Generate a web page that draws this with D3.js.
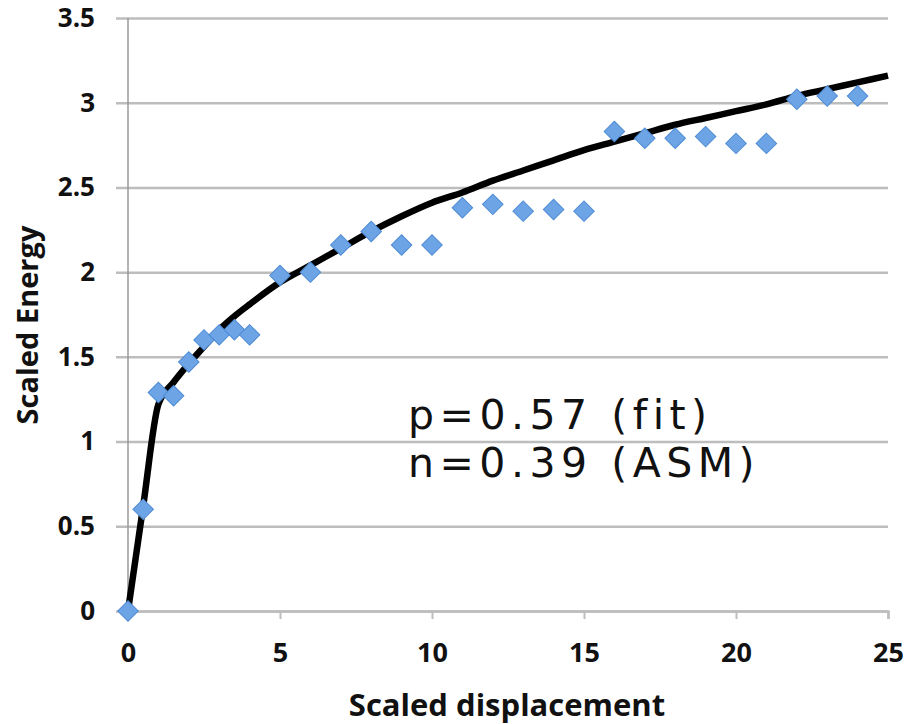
<!DOCTYPE html>
<html>
<head>
<meta charset="utf-8">
<script src="https://cdn.jsdelivr.net/npm/d3@7"></script>
<style>
  body { margin: 0; background: #fff; }
  svg { display: block; }
</style>
</head>
<body>
<div id="chart"></div>
<script>
// measured points (blue diamonds)
var dispX = [0, 0.5, 1, 1.5, 2, 2.5, 3, 3.5, 4, 5, 6, 7, 8, 9, 10, 11, 12, 13, 14, 15, 16, 17, 18, 19, 20, 21, 22, 23, 24];
var energyY = [0, 0.6, 1.29, 1.27, 1.47, 1.6, 1.63, 1.66, 1.63, 1.98, 2.0, 2.16, 2.24, 2.16, 2.16, 2.38, 2.4, 2.36, 2.37, 2.36, 2.83, 2.79, 2.79, 2.8, 2.76, 2.76, 3.02, 3.04, 3.04];

// fitted curve (black line)
var fitX = [0, 0.5, 1, 1.5, 2, 2.5, 3, 3.5, 4, 5, 6, 7, 8, 9, 10, 11, 12, 13, 14, 15, 16, 17, 18, 19, 20, 21, 22, 23, 24, 25];
var fitY = [0, 0.62, 1.22, 1.35, 1.46, 1.56, 1.66, 1.74, 1.81, 1.94, 2.04, 2.14, 2.24, 2.33, 2.41, 2.47, 2.54, 2.6, 2.66, 2.72, 2.77, 2.82, 2.87, 2.91, 2.95, 2.99, 3.04, 3.08, 3.12, 3.16];

var xTicks = [0, 5, 10, 15, 20, 25];
var yTicks = [0, 0.5, 1, 1.5, 2, 2.5, 3, 3.5];
var notes = ["p=0.57 (fit)", "n=0.39 (ASM)"];

var width = 918, height = 724;
var margin = { top: 18, right: 30, bottom: 113, left: 128 };
var innerW = width - margin.left - margin.right;
var innerH = height - margin.top - margin.bottom;

var svg = d3.select("#chart").append("svg")
  .attr("width", width)
  .attr("height", height);

var g = svg.append("g")
  .attr("transform", "translate(" + margin.left + "," + margin.top + ")");

var x = d3.scaleLinear().domain([0, 25]).range([0, innerW]);
var y = d3.scaleLinear().domain([0, 3.5]).range([innerH, 0]);

var tickFont = "'Open Sans', sans-serif";

// horizontal gridlines + y axis
var yAxis = g.append("g")
  .call(d3.axisLeft(y).tickValues(yTicks).tickSize(-innerW).tickPadding(33).tickFormat(d3.format("")));
yAxis.select(".domain").remove();
yAxis.selectAll(".tick line")
  .attr("x1", -12)
  .attr("stroke", "#bdbdbd")
  .attr("stroke-width", 2.5);
yAxis.selectAll(".tick text")
  .attr("font-family", tickFont)
  .attr("font-weight", "bold")
  .attr("font-size", 26)
  .attr("fill", "#111");

// left axis line
g.append("line")
  .attr("x1", 0).attr("x2", 0)
  .attr("y1", 0).attr("y2", innerH)
  .attr("stroke", "#9a9a9a")
  .attr("stroke-width", 1.5);

// bottom axis
var xAxis = g.append("g")
  .attr("transform", "translate(0," + innerH + ")")
  .call(d3.axisBottom(x).tickValues(xTicks).tickSize(8).tickPadding(24));
xAxis.select(".domain")
  .attr("stroke", "#bdbdbd")
  .attr("stroke-width", 2.5);
xAxis.selectAll(".tick line")
  .attr("stroke", "#bdbdbd")
  .attr("stroke-width", 2);
xAxis.selectAll(".tick text")
  .attr("font-family", tickFont)
  .attr("font-weight", "bold")
  .attr("font-size", 27)
  .attr("fill", "#111");

// fit line
var fitData = fitX.map(function(d, i) { return { x: d, y: fitY[i] }; });
var line = d3.line()
  .x(function(d) { return x(d.x); })
  .y(function(d) { return y(d.y); })
  .curve(d3.curveMonotoneX);

g.append("path")
  .datum(fitData)
  .attr("d", line)
  .attr("fill", "none")
  .attr("stroke", "#000")
  .attr("stroke-width", 6.5)
  .attr("stroke-linejoin", "round");

// diamonds
var pts = dispX.map(function(d, i) { return { x: d, y: energyY[i] }; });
var diamond = d3.symbol().type(d3.symbolSquare).size(210);

g.selectAll(".pt")
  .data(pts)
  .enter()
  .append("path")
  .attr("class", "pt")
  .attr("d", diamond)
  .attr("transform", function(d) { return "translate(" + x(d.x) + "," + y(d.y) + ") rotate(45)"; })
  .attr("fill", "#6ca4e6")
  .attr("stroke", "#4f8bd3")
  .attr("stroke-width", 1);

// annotation
g.selectAll(".note")
  .data(notes)
  .enter()
  .append("text")
  .attr("class", "note")
  .attr("x", 280)
  .attr("y", function(d, i) { return 411 + i * 48; })
  .attr("font-family", "'DejaVu Sans', sans-serif")
  .attr("font-size", 41)
  .attr("letter-spacing", 5.5)
  .attr("fill", "#111")
  .text(function(d) { return d; });

// axis titles
svg.append("text")
  .attr("x", margin.left + innerW / 2 - 1)
  .attr("y", 716)
  .attr("text-anchor", "middle")
  .attr("font-family", tickFont)
  .attr("font-weight", "bold")
  .attr("font-size", 31)
  .attr("fill", "#111")
  .text("Scaled displacement");

svg.append("text")
  .attr("transform", "translate(38," + 325 + ") rotate(-90)")
  .attr("text-anchor", "middle")
  .attr("font-family", tickFont)
  .attr("font-weight", "bold")
  .attr("font-size", 29)
  .attr("fill", "#111")
  .text("Scaled Energy");
</script>
</body>
</html>
